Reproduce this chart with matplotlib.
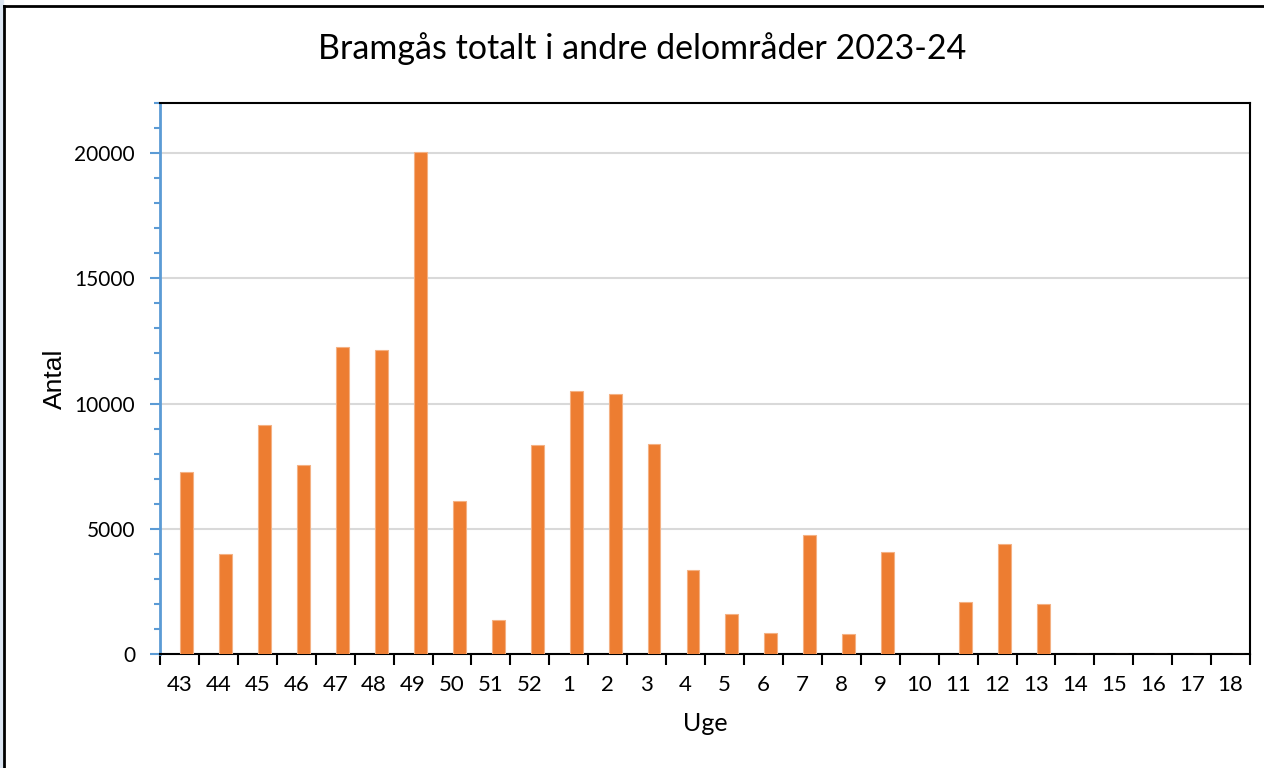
import matplotlib.pyplot as plt
import numpy as np
from matplotlib.patches import Rectangle
from matplotlib.lines import Line2D
from matplotlib.ticker import MultipleLocator, FixedLocator

plt.rcParams['font.family'] = ['Lato', 'DejaVu Sans']

# uger (x-akse) og antal bramgæs
uger = ['43', '44', '45', '46', '47', '48', '49', '50', '51', '52',
        '1', '2', '3', '4', '5', '6', '7', '8', '9', '10',
        '11', '12', '13', '14', '15', '16', '17', '18']
antal = [7250, 4000, 9150, 7540, 12250, 12150, 20050, 6100, 1340, 8350,
         10520, 10400, 8400, 3360, 1590, 830, 4740, 780, 4080, 0,
         2090, 4400, 2000, 0, 0, 0, 0, 0]

fig = plt.figure(figsize=(12.64, 7.68), dpi=100)
ax = fig.add_axes([0.1266, 0.1484, 0.8624, 0.7175])

x = np.arange(len(uger))
# søjlerne sidder lidt til højre i hver kategori (som i Excel med to serier)
ax.bar(x + 0.19, antal, width=0.33, color='#ED7D31', edgecolor='#F4B183', linewidth=0.8, zorder=3)

ax.set_xlim(-0.5, len(uger) - 0.5)
ax.set_ylim(0, 22000)

ax.yaxis.set_major_locator(MultipleLocator(5000))
ax.yaxis.set_minor_locator(MultipleLocator(1000))
ax.grid(axis='y', which='major', color='#D9D9D9', linewidth=1.5, zorder=0)

ax.set_xticks(x)
ax.set_xticklabels(uger)
ax.xaxis.set_minor_locator(FixedLocator(np.arange(len(uger) + 1) - 0.5))
ax.tick_params(axis='x', which='major', length=0, pad=15, labelsize=16)
ax.tick_params(axis='x', which='minor', length=8, width=1.5, color='black')
ax.tick_params(axis='y', which='major', length=7, width=1.5, color='#5B9BD5', labelsize=15, pad=11)
ax.tick_params(axis='y', which='minor', length=4, width=1.5, color='#5B9BD5')

for s in ['top', 'right', 'bottom']:
    ax.spines[s].set_color('black')
    ax.spines[s].set_linewidth(1.5)
ax.spines['left'].set_color('#5B9BD5')
ax.spines['left'].set_linewidth(2)

ax.set_xlabel('Uge', fontsize=18, labelpad=12)
ax.set_ylabel('Antal', fontsize=19, family=['Liberation Sans', 'DejaVu Sans'])
ax.yaxis.set_label_coords(-0.085, 0.5)

fig.text(0.508, 0.937, 'Bramgås totalt i andre delområder 2023-24', ha='center', va='center', fontsize=24.5)

# ramme fra det oprindelige diagram
fig.patches.append(Rectangle((0, 0), 3 / 1264, 1, transform=fig.transFigure, color='#DCE6F2', zorder=0))
fig.lines.append(Line2D([4 / 1264, 4 / 1264], [0, 1 - 6 / 768], transform=fig.transFigure, color='black', linewidth=2))
fig.lines.append(Line2D([4 / 1264, 1], [1 - 6 / 768, 1 - 6 / 768], transform=fig.transFigure, color='black', linewidth=2))

fig.savefig('out.png', dpi=100)
